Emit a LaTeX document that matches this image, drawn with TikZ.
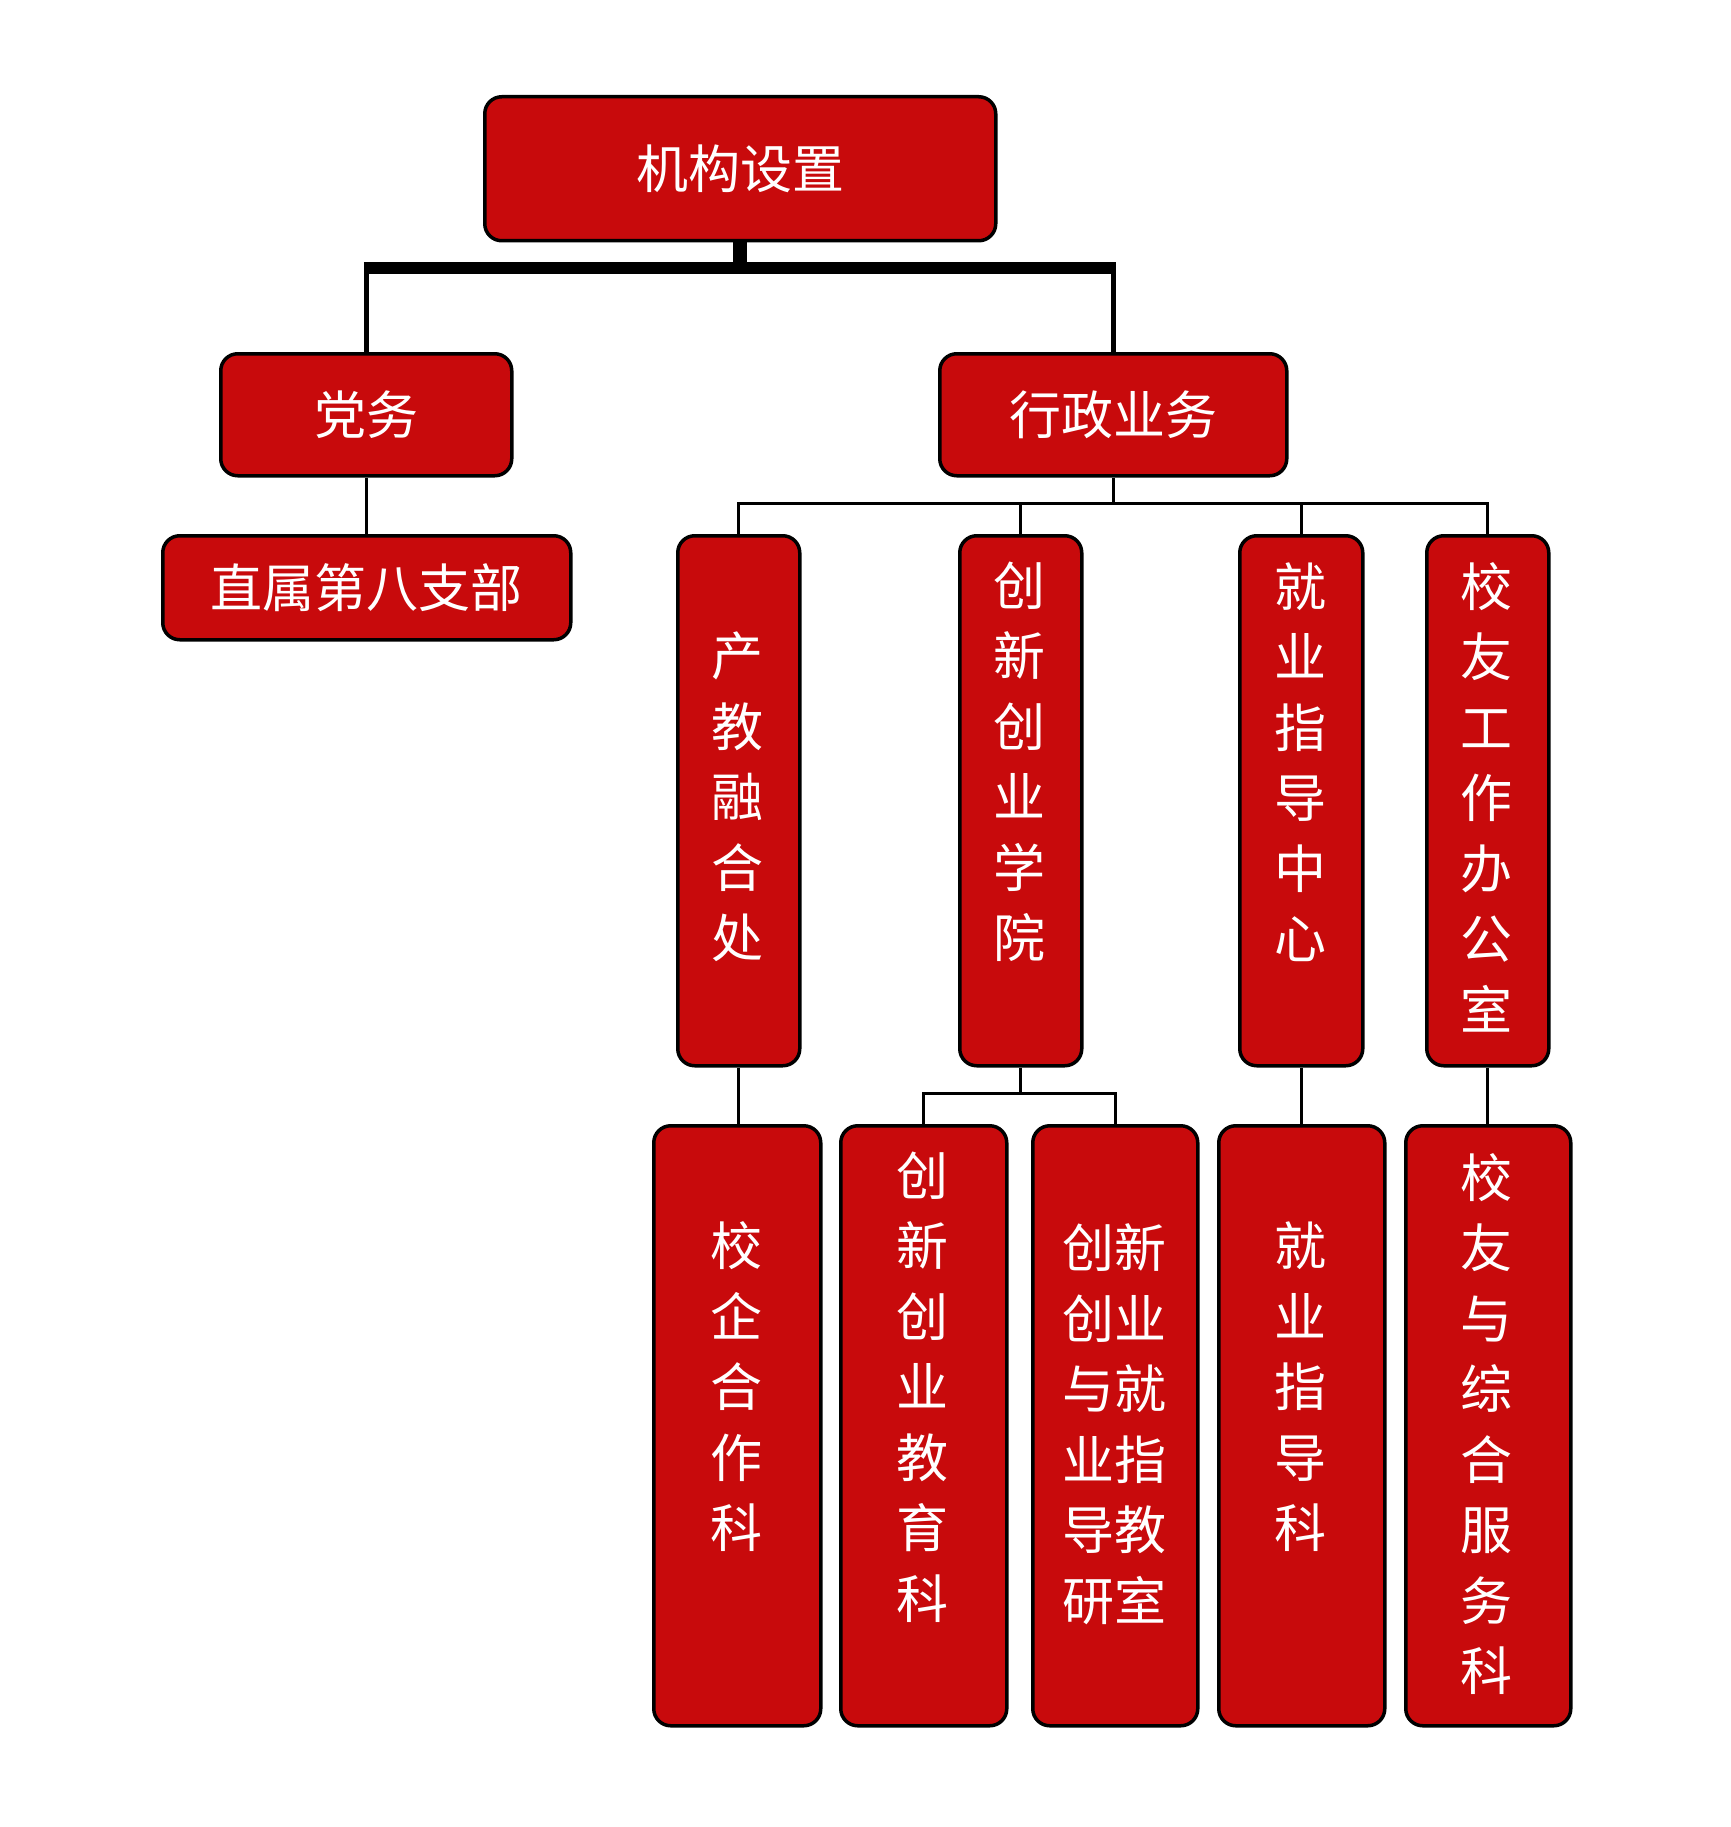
\documentclass[tikz,border=0pt]{standalone}
\usepackage{fontspec}
\setmainfont{Noto Sans CJK SC}
\definecolor{boxred}{HTML}{C80A0C}
\tikzset{
  orgbox/.style={draw=black, line width=3.5pt, fill=boxred, rounded corners=17pt, inner sep=0pt, anchor=north west},
  lbl/.style={text=white, font=\fontsize{52}{70.5}\selectfont, align=center, inner sep=0pt},
  barline/.style={line width=12pt, draw=black},
  stubline/.style={line width=14pt, draw=black},
  midline/.style={line width=5pt, draw=black},
  thinline/.style={line width=3pt, draw=black}
}
\begin{document}
\begin{tikzpicture}[x=1pt,y=-1pt]
\useasboundingbox (0,0) rectangle (1730,1827);
% level 0
\node[orgbox, minimum width=511pt, minimum height=144pt] (top) at (483,95) {};
% level 1
\node[orgbox, minimum width=291pt, minimum height=122pt] (dw) at (219,352) {};
\node[orgbox, minimum width=347pt, minimum height=122pt] (xz) at (938,352) {};
% party branch
\node[orgbox, minimum width=408pt, minimum height=104pt] (zs) at (161,534) {};
% level 2
\node[orgbox, minimum width=122pt, minimum height=530pt] (c1) at (676,534) {};
\node[orgbox, minimum width=122pt, minimum height=530pt] (c2) at (958,534) {};
\node[orgbox, minimum width=123pt, minimum height=530pt] (c3) at (1238,534) {};
\node[orgbox, minimum width=122pt, minimum height=530pt] (c4) at (1425,534) {};
% level 3
\node[orgbox, minimum width=167pt, minimum height=600pt] (d1) at (652,1124) {};
\node[orgbox, minimum width=166pt, minimum height=600pt] (d2) at (839,1124) {};
\node[orgbox, minimum width=165pt, minimum height=600pt] (d3) at (1031,1124) {};
\node[orgbox, minimum width=166pt, minimum height=600pt] (d4) at (1217,1124) {};
\node[orgbox, minimum width=165pt, minimum height=600pt] (d5) at (1404,1124) {};

% connectors level 0 -> 1
\coordinate (bar) at (736,268);
\draw[stubline] (top.south) -- (top.south |- bar);
\draw[midline] (dw.north) -- (dw.north |- bar);
\draw[midline] (xz.north) -- (xz.north |- bar);
\draw[barline] ([xshift=-2.5pt]dw.north |- bar) -- ([xshift=2.5pt]xz.north |- bar);
% party
\draw[thinline] (dw.south) -- (dw.south |- zs.north);
% admin -> level 2
\coordinate (b2) at (736,503);
\draw[thinline] (xz.south) -- (xz.south |- b2);
\draw[thinline, line cap=rect] (c1.north |- b2) -- (c4.north |- b2);
\foreach \n in {c1,c2,c3,c4} \draw[thinline] (\n.north |- b2) -- (\n.north);
% level 2 -> 3
\draw[thinline] (c1.south) -- (c1.south |- d1.north);
\coordinate (b3) at (1019,1093);
\draw[thinline] (c2.south) -- (c2.south |- b3);
\draw[thinline, line cap=rect] (d2.north |- b3) -- (d3.north |- b3);
\draw[thinline] (d2.north |- b3) -- (d2.north);
\draw[thinline] (d3.north |- b3) -- (d3.north);
\draw[thinline] (c3.south) -- (c3.south |- d4.north);
\draw[thinline] (c4.south) -- (c4.south |- d5.north);

% texts
\node[lbl] (ttop) at (top.center) {机构设置};
\node[lbl] (tdw) at (dw.center) {党务};
\node[lbl] (txz) at (xz.center) {行政业务};
\node[lbl] (tzs) at (zs.center) {直属第八支部};
\node[lbl] (tc1) at (737,797) {产\\教\\融\\合\\处};
\node[lbl] (tc2) at (1019,762) {创\\新\\创\\业\\学\\院};
\node[lbl] (tc3) at (1300,762) {就\\业\\指\\导\\中\\心};
\node[lbl] (tc4) at (1486,797) {校\\友\\工\\作\\办\\公\\室};
\node[lbl] (td1) at (736,1387) {校\\企\\合\\作\\科};
\node[lbl] (td2) at (922,1387) {创\\新\\创\\业\\教\\育\\科};
\node[lbl] (td3) at (1114,1424) {创新\\创业\\与就\\业指\\导教\\研室};
\node[lbl] (td4) at (1300,1387) {就\\业\\指\\导\\科};
\node[lbl] (td5) at (1486,1424) {校\\友\\与\\综\\合\\服\\务\\科};
\end{tikzpicture}
\end{document}
